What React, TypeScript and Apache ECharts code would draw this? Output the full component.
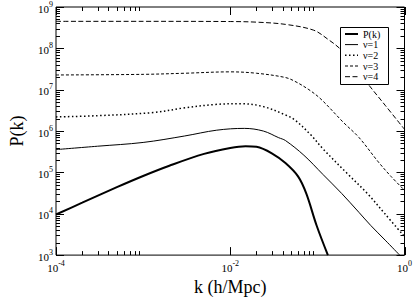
import React, { useEffect, useRef } from "react";
import * as echarts from "echarts";

const X_MIN = 1e-4;
const X_MAX = 1;
const Y_MIN = 1e3;
const Y_MAX = 1e9;

const seriesNames = ["P(k)", "ν=1", "ν=2", "ν=3", "ν=4"];

const pkK = [1e-4, 2e-4, 5e-4, 1e-3, 2e-3, 5e-3, 1e-2, 1.5e-2, 2e-2, 3e-2, 4.3e-2, 6e-2, 7.45e-2, 9.8e-2, 0.132];
const pkV = [9.6e3, 1.85e4, 4.4e4, 8.2e4, 1.45e5, 2.8e5, 3.9e5, 4.3e5, 4.15e5, 2.9e5, 1.68e5, 8.0e4, 3.1e4, 5.2e3, 1.0e3];

const nu1K = [1e-4, 3e-4, 1e-3, 3e-3, 7e-3, 1.45e-2, 2.4e-2, 3.6e-2, 4.3e-2, 7e-2, 0.116, 0.19, 0.3, 0.41, 0.6, 0.88];
const nu1V = [3.56e5, 4.3e5, 5.3e5, 7.6e5, 1.05e6, 1.16e6, 1.0e6, 6.9e5, 5.9e5, 2.6e5, 8.9e4, 3.1e4, 1.08e4, 5.2e3, 2.3e3, 1.0e3];

const nu2K = [1e-4, 3e-4, 1.3e-3, 2.9e-3, 6.8e-3, 1.33e-2, 2.4e-2, 4.3e-2, 5.5e-2, 8.3e-2, 0.116, 0.226, 0.374, 0.6, 1];
const nu2V = [2.2e6, 2.35e6, 2.8e6, 3.6e6, 4.4e6, 4.6e6, 3.9e6, 2.45e6, 1.86e6, 8.3e5, 3.7e5, 8.9e4, 3.1e4, 9.8e3, 2.8e3];

const nu3K = [1e-4, 1e-3, 3e-3, 1e-2, 2e-2, 4.3e-2, 5.5e-2, 8e-2, 0.11, 0.2, 0.3, 0.5, 0.7, 1];
const nu3V = [2.27e7, 2.35e7, 2.5e7, 2.7e7, 2.5e7, 1.97e7, 1.6e7, 1.0e7, 5.9e6, 1.6e6, 7.0e5, 1.8e5, 8.0e4, 3.7e4];

const nu4K = [1e-4, 1e-3, 1e-2, 2e-2, 4.3e-2, 9.06e-2, 0.13, 0.192, 0.389, 0.6, 1];
const nu4V = [4.5e8, 4.5e8, 4.45e8, 4.3e8, 3.8e8, 2.75e8, 1.7e8, 8.7e7, 1.3e7, 4.2e6, 1.1e6];

const xMajorTicks = [1e-4, 1e-2, 1];
const xMinorTicks = [2e-4, 3e-4, 4e-4, 5e-4, 6e-4, 7e-4, 8e-4, 9e-4, 2e-2, 3e-2, 4e-2, 5e-2, 6e-2, 7e-2, 8e-2, 9e-2];
const yMajorTicks = [1e3, 1e4, 1e5, 1e6, 1e7, 1e8, 1e9];
const yMinorMultipliers = [2, 3, 4, 5, 6, 7, 8, 9];

const FONT = '"Liberation Serif", "Times New Roman", serif';

const lineStyles = [
  { width: 2, type: "solid" as any },
  { width: 1, type: "solid" as any },
  { width: 1.5, type: [1.5, 2.5] as any },
  { width: 1, type: [3, 2] as any },
  { width: 1, type: [5, 2.5] as any },
];

function pairs(k: number[], v: number[]) {
  return k.map((x, i) => [x, v[i]]);
}

export default function App() {
  const ref = useRef<HTMLDivElement>(null);
  useEffect(() => {
    if (!ref.current) return;
    const chart = echarts.init(ref.current, undefined, { renderer: "svg" });

    const yMinorTicks: number[] = [];
    yMajorTicks.slice(0, -1).forEach((d) => yMinorMultipliers.forEach((m) => yMinorTicks.push(d * m)));

    const tickData: number[][] = [
      ...xMajorTicks.map((v) => [v, Y_MIN, 0]),
      ...xMinorTicks.map((v) => [v, Y_MIN, 1]),
      ...yMajorTicks.map((v) => [X_MIN, v, 2]),
      ...yMinorTicks.map((v) => [X_MIN, v, 3]),
    ];

    const dataSets = [pairs(pkK, pkV), pairs(nu1K, nu1V), pairs(nu2K, nu2V), pairs(nu3K, nu3V), pairs(nu4K, nu4V)];

    const richLabel = {
      b: { fontSize: 11, fontFamily: FONT, color: "#000", lineHeight: 14, verticalAlign: "bottom" },
      s: { fontSize: 8, fontFamily: FONT, color: "#000", lineHeight: 9, verticalAlign: "top" },
    };

    const rowY = [34, 44.6, 55.3, 66, 76.7];
    const legendEls: any[] = [
      {
        type: "rect",
        shape: { x: 340.5, y: 27.5, width: 48, height: 57 },
        style: { fill: "#fff", stroke: "#000", lineWidth: 1 },
        z: 100,
      },
    ];
    seriesNames.forEach((name, i) => {
      const ls = lineStyles[i];
      legendEls.push({
        type: "line",
        shape: { x1: 345, y1: rowY[i], x2: 358, y2: rowY[i] },
        style: {
          stroke: "#000",
          lineWidth: ls.width,
          lineDash: Array.isArray(ls.type) ? ls.type : null,
        },
        z: 101,
      });
      legendEls.push({
        type: "text",
        x: 363,
        y: rowY[i],
        style: {
          text: name,
          fill: "#000",
          fontSize: 10,
          fontFamily: FONT,
          verticalAlign: "middle",
          align: "left",
        },
        z: 101,
      });
    });

    chart.setOption({
      animation: false,
      backgroundColor: "#fff",
      grid: {
        left: 38,
        right: 9,
        top: 6,
        bottom: 37,
        show: true,
        borderColor: "#000",
        borderWidth: 1,
        backgroundColor: "transparent",
      },
      xAxis: {
        type: "log",
        logBase: 10,
        min: X_MIN,
        max: X_MAX,
        splitNumber: 4,
        name: "k (h/Mpc)",
        nameLocation: "middle",
        nameGap: 14,
        nameTextStyle: { fontFamily: FONT, fontSize: 18, color: "#000" },
        axisLine: { show: false },
        axisTick: { show: false },
        splitLine: { show: false },
        axisLabel: {
          margin: 4,
          formatter: (v: number) => {
            const e = Math.round(Math.log10(v));
            if (e % 2 !== 0) return "";
            return `{b|10}{s|${e}}`;
          },
          rich: richLabel,
        },
      },
      yAxis: {
        type: "log",
        logBase: 10,
        min: Y_MIN,
        max: Y_MAX,
        splitNumber: 6,
        name: "P(k)",
        nameLocation: "middle",
        nameGap: 30,
        nameRotate: 90,
        nameTextStyle: { fontFamily: FONT, fontSize: 18, color: "#000" },
        axisLine: { show: false },
        axisTick: { show: false },
        splitLine: { show: false },
        axisLabel: {
          margin: 3,
          formatter: (v: number) => {
            const e = Math.round(Math.log10(v));
            return `{b|10}{s|${e}}`;
          },
          rich: richLabel,
        },
      },
      graphic: legendEls,
      series: [
        ...dataSets.map((d, i) => ({
          type: "line",
          name: seriesNames[i],
          data: d,
          showSymbol: false,
          symbol: "none",
          smooth: 0.35,
          silent: true,
          lineStyle: { color: "#000", width: lineStyles[i].width, type: lineStyles[i].type },
          z: 3,
        })),
        {
          type: "custom",
          name: "ticks",
          silent: true,
          clip: false,
          z: 5,
          data: tickData,
          renderItem: (params: any, api: any) => {
            const kind = api.value(2);
            const xv = api.value(0);
            const yv = api.value(1);
            const st = { stroke: "#000", lineWidth: 1 };
            if (kind < 2) {
              const len = kind === 0 ? 8 : 4;
              const pb = api.coord([xv, Y_MIN]);
              const pt = api.coord([xv, Y_MAX]);
              const x = Math.round(pb[0]) + 0.5;
              return {
                type: "group",
                children: [
                  { type: "line", shape: { x1: x, y1: pb[1], x2: x, y2: pb[1] - len }, style: st },
                  { type: "line", shape: { x1: x, y1: pt[1], x2: x, y2: pt[1] + len }, style: st },
                ],
              };
            }
            const len = kind === 2 ? 8 : 4;
            const pl = api.coord([X_MIN, yv]);
            const pr = api.coord([X_MAX, yv]);
            const y = Math.round(pl[1]) + 0.5;
            return {
              type: "group",
              children: [
                { type: "line", shape: { x1: pl[0], y1: y, x2: pl[0] + len, y2: y }, style: st },
                { type: "line", shape: { x1: pr[0], y1: y, x2: pr[0] - len, y2: y }, style: st },
              ],
            };
          },
        },
      ],
    });
    return () => chart.dispose();
  }, []);
  return (
    <div
      ref={ref}
      style={{ position: "fixed", left: 0, top: 0, width: 415, height: 301, background: "#fff" }}
    />
  );
}
